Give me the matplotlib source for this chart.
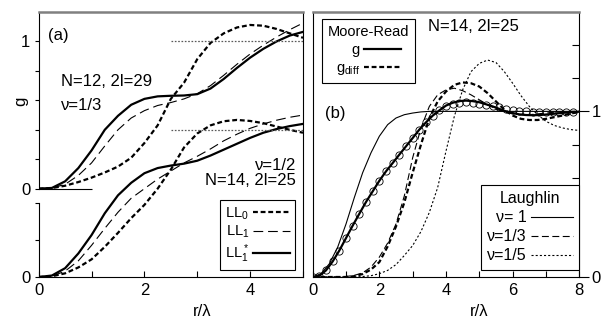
import numpy as np
import matplotlib
matplotlib.use("Agg")
import matplotlib.pyplot as plt
from matplotlib.lines import Line2D

plt.rcParams["font.family"] = ["Liberation Sans", "DejaVu Sans"]
plt.rcParams["mathtext.fontset"] = "custom"
plt.rcParams["mathtext.rm"] = "Liberation Sans"
plt.rcParams["mathtext.it"] = "Liberation Sans:italic"
plt.rcParams["lines.scale_dashes"] = False

# ---- panel (a): pair correlation, two systems (upper one shifted up) ----
r_a = np.arange(0, 5.01, 0.25)
upper_shift = 0.6
# N=12, 2l=29, nu=1/3
ll0_up = [0, 0.004, 0.02, 0.045, 0.075, 0.11, 0.15, 0.21, 0.31, 0.43, 0.61,
          0.72, 0.88, 0.99, 1.055, 1.095, 1.112, 1.107, 1.085, 1.055, 1.025]
ll1_up = [0, 0.003, 0.03, 0.09, 0.175, 0.29, 0.40, 0.48, 0.53, 0.565, 0.585,
          0.61, 0.645, 0.70, 0.77, 0.845, 0.915, 0.975, 1.03, 1.08, 1.125]
ll1s_up = [0, 0.005, 0.05, 0.14, 0.26, 0.40, 0.495, 0.57, 0.61, 0.627, 0.631,
           0.633, 0.642, 0.68, 0.745, 0.82, 0.89, 0.95, 1.0, 1.04, 1.065]
# N=14, 2l=25, nu=1/2
ll0_lo = [0, 0.005, 0.025, 0.065, 0.12, 0.205, 0.30, 0.40, 0.49, 0.60, 0.73,
          0.88, 0.975, 1.03, 1.058, 1.067, 1.06, 1.045, 1.022, 1.0, 0.98]
ll1_lo = [0, 0.005, 0.04, 0.11, 0.215, 0.33, 0.44, 0.535, 0.60, 0.665, 0.72,
          0.775, 0.82, 0.87, 0.925, 0.97, 1.01, 1.04, 1.065, 1.085, 1.10]
ll1s_lo = [0, 0.01, 0.06, 0.16, 0.285, 0.433, 0.555, 0.64, 0.705, 0.74, 0.757,
           0.77, 0.79, 0.825, 0.865, 0.905, 0.945, 0.98, 1.005, 1.025, 1.04]
ref_level = 1.0
ref_start = 2.5
zero_mark_end = 1.0

# ---- panel (b): Laughlin and Moore-Read ----
r_b = np.arange(0, 8.01, 0.25)
nu1 = [0, 0.02, 0.08, 0.18, 0.32, 0.48, 0.63, 0.75, 0.85, 0.92, 0.96, 0.98,
       0.99, 0.997] + [1.0] * 19
nu13 = [0, 0, 0, 0.001, 0.003, 0.01, 0.025, 0.06, 0.12, 0.205, 0.32, 0.49,
        0.72, 0.90, 1.03, 1.10, 1.13, 1.14, 1.125, 1.10, 1.07, 1.04, 1.015,
        0.995, 0.985, 0.98, 0.98, 0.985, 0.99, 0.995, 0.998, 1.0, 1.0]
nu15 = [0, 0, 0, 0, 0, 0, 0.003, 0.008, 0.02, 0.04, 0.075, 0.13, 0.19, 0.275,
        0.39, 0.54, 0.76, 0.97, 1.13, 1.24, 1.29, 1.31, 1.295, 1.24, 1.17,
        1.095, 1.03, 0.98, 0.94, 0.915, 0.90, 0.89, 0.885]
g_diff = [0, 0, 0, 0, 0, 0.005, 0.018, 0.045, 0.09, 0.185, 0.305, 0.45, 0.63,
          0.80, 0.96, 1.06, 1.12, 1.16, 1.175, 1.17, 1.15, 1.11, 1.06, 1.01,
          0.975, 0.955, 0.948, 0.948, 0.955, 0.965, 0.975, 0.988, 0.995]
r_mr = np.arange(0, 8.01, 0.2)
mr_g = [0, 0.007, 0.04, 0.094, 0.16, 0.235, 0.31, 0.382, 0.453, 0.517, 0.581,
        0.638, 0.688, 0.739, 0.789, 0.839, 0.89, 0.934, 0.974, 1.006, 1.035,
        1.052, 1.062, 1.065, 1.062, 1.055, 1.043, 1.03, 1.015, 1.0, 0.99,
        0.982, 0.978, 0.977, 0.978, 0.981, 0.985, 0.989, 0.993, 0.996, 0.998]
r_circ = np.arange(0, 7.81, 0.2)
mr_circ = [0, 0.007, 0.04, 0.094, 0.16, 0.235, 0.31, 0.382, 0.453, 0.517,
           0.581, 0.638, 0.688, 0.739, 0.789, 0.839, 0.89, 0.934, 0.974, 1.006,
           1.03, 1.044, 1.052, 1.054, 1.052, 1.046, 1.04, 1.032, 1.024, 1.016,
           1.01, 1.004, 1.0, 0.998, 0.997, 0.997, 0.997, 0.998, 0.998, 0.999]

thick_dash = dict(color="k", lw=1.6, dashes=(3.5, 2))
thin_dash = dict(color="k", lw=0.8, dashes=(7, 3.5))
thick_solid = dict(color="k", lw=1.6)
thin_solid = dict(color="k", lw=0.8)
nu13_style = dict(color="k", lw=0.8, dashes=(5, 2.5))
nu15_style = dict(color="k", lw=0.8, dashes=(1.5, 1.5))

fig = plt.figure(figsize=(6.02, 3.23), dpi=100)
ax_a = fig.add_axes([0.0643, 0.1424, 0.439, 0.8204])
ax_b = fig.add_axes([0.5194, 0.1424, 0.4429, 0.8204])

# panel (a)
up = upper_shift
ax_a.plot(r_a, np.array(ll0_up) + up, **thick_dash)
ax_a.plot(r_a, np.array(ll1_up) + up, **thin_dash)
ax_a.plot(r_a, np.array(ll1s_up) + up, **thick_solid)
ax_a.plot(r_a, ll0_lo, **thick_dash)
ax_a.plot(r_a, ll1_lo, **thin_dash)
ax_a.plot(r_a, ll1s_lo, **thick_solid)
for base in (0, up):
    ax_a.hlines(base + ref_level, ref_start, 5, color="0.35", lw=0.9,
                linestyles=(0, (1.2, 1.2)))
ax_a.hlines(up, 0, zero_mark_end, color="k", lw=0.8)

ax_a.set_xlim(0, 5)
ax_a.set_ylim(0, 1.8)
ax_a.spines["left"].set_visible(False)
ax_a.spines["top"].set_color("0.5")
ax_a.spines["top"].set_linewidth(1.8)
for s in ("right", "bottom"):
    ax_a.spines[s].set_linewidth(0.8)
ax_a.axvline(0, ymin=0, ymax=0.5 / 1.8, color="k", lw=0.8, clip_on=False)
ax_a.axvline(0, ymin=up / 1.8, ymax=1, color="k", lw=0.8, clip_on=False)
ax_a.set_yticks([0, 0.25, 0.5, 0.6, 0.8, 1.0, 1.2, 1.4, 1.6])
ax_a.set_yticklabels(["0", "", "", "0", "", "", "", "", "1"])
ax_a.set_xticks(range(6))
ax_a.set_xticklabels(["0", "", "2", "", "4", ""])
ax_a.tick_params(axis="y", direction="out", length=3, width=0.8, labelsize=12, pad=3)
ax_a.tick_params(axis="x", direction="in", length=4, width=0.8, labelsize=12, pad=4)
ax_a.set_xlabel("r/λ", fontsize=12, labelpad=0)
ax_a.xaxis.set_label_coords(0.62, -0.1)

ax_a.text(0.18, 1.64, "(a)", fontsize=12, va="center")
ax_a.text(0.42, 1.33, "N=12, 2l=29", fontsize=12, va="center")
ax_a.text(0.42, 1.167, "ν=1/3", fontsize=12, va="center")
ax_a.text(4.87, 0.76, "ν=1/2", fontsize=12, va="center", ha="right")
ax_a.text(4.87, 0.656, "N=14, 2l=25", fontsize=12, va="center", ha="right")
fig.text(21 / 602, 1 - 101 / 323, "g", rotation=90, fontsize=12,
         ha="center", va="center")

leg_kw = dict(frameon=True, fancybox=False, edgecolor="k", framealpha=1,
              markerfirst=False, handletextpad=0.3, borderaxespad=0)
h_a = [Line2D([], [], **thick_dash), Line2D([], [], **thin_dash),
       Line2D([], [], **thick_solid)]
leg = ax_a.legend(h_a, ["LL$_0$", "LL$_1$", "LL$_1^*$"], loc="lower right",
                  bbox_to_anchor=(0.97, 0.026), fontsize=10.5,
                  handlelength=2.5, labelspacing=0.15, borderpad=0.35,
                  **leg_kw)
leg.get_frame().set_linewidth(0.8)

# panel (b)
ax_b.plot(r_b, nu1, **thin_solid)
ax_b.plot(r_b, nu13, **nu13_style)
ax_b.plot(r_b, nu15, **nu15_style)
ax_b.plot(r_b, g_diff, **thick_dash)
ax_b.plot(r_mr, mr_g, **thick_solid)
ax_b.plot(r_circ, mr_circ, ls="none", marker="o", ms=5.2, mfc="none",
          mec="k", mew=0.6)

ax_b.set_xlim(0, 8)
ax_b.set_ylim(0, 1.6)
ax_b.spines["top"].set_color("0.5")
ax_b.spines["top"].set_linewidth(1.8)
for s in ("left", "right", "bottom"):
    ax_b.spines[s].set_linewidth(0.8)
ax_b.yaxis.tick_right()
ax_b.set_yticks([0, 1])
ax_b.set_yticklabels(["0", "1"])
ax_b.set_yticks([0.2, 0.4, 0.6, 0.8, 1.2, 1.4], minor=True)
ax_b.tick_params(axis="y", which="major", direction="out", length=7,
                 width=0.8, labelsize=12, pad=2)
ax_b.tick_params(axis="y", which="minor", direction="in", length=5, width=0.8)
ax_b.set_xticks(range(9))
ax_b.set_xticklabels(["0", "", "2", "", "4", "", "6", "", "8"])
ax_b.tick_params(axis="x", direction="in", length=4, width=0.8, labelsize=12, pad=4)
ax_b.set_xlabel("r/λ", fontsize=12, labelpad=0)
ax_b.xaxis.set_label_coords(0.624, -0.1)

ax_b.text(0.37, 0.99, "(b)", fontsize=12, va="center")
ax_b.text(3.46, 1.511, "N=14, 2l=25", fontsize=12, va="center")

h_mr = [Line2D([], [], **thick_solid), Line2D([], [], **thick_dash)]
leg1 = ax_b.legend(h_mr, ["g", "g$_{\\rm diff}$"], title="Moore-Read",
                   loc="upper left", bbox_to_anchor=(0.034, 0.974),
                   fontsize=10.5, title_fontsize=10.5, handlelength=2.5,
                   labelspacing=0.3, borderpad=0.4, **leg_kw)
leg1.get_frame().set_linewidth(0.8)
ax_b.add_artist(leg1)
h_l = [Line2D([], [], **thin_solid), Line2D([], [], **nu13_style),
       Line2D([], [], **nu15_style)]
leg2 = ax_b.legend(h_l, ["ν= 1", "ν=1/3", "ν=1/5"], title="Laughlin",
                   loc="lower right", bbox_to_anchor=(1.0, 0.0275),
                   fontsize=11.5, title_fontsize=11.5, handlelength=2.6,
                   labelspacing=0.25, borderpad=0.4, **leg_kw)
leg2.get_frame().set_linewidth(0.8)

fig.savefig("out.png", dpi=100)
